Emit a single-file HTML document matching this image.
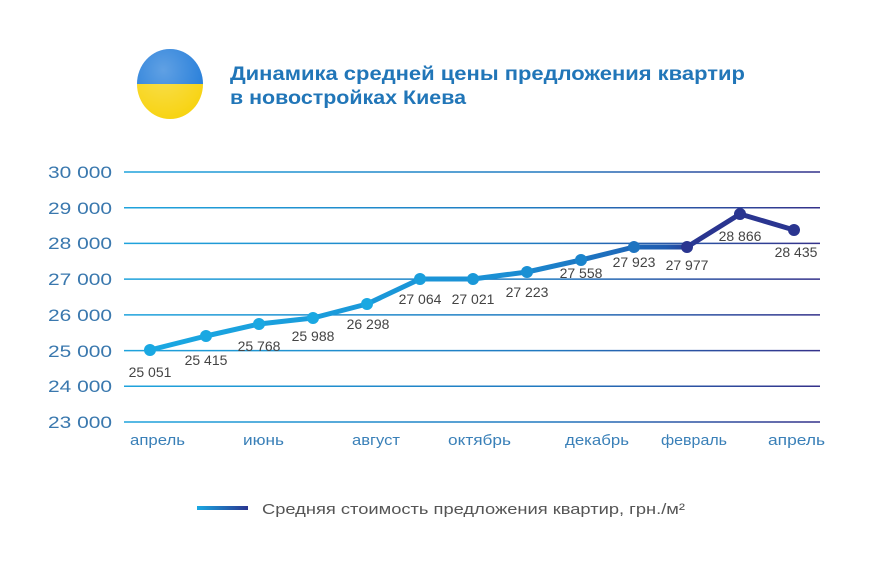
<!DOCTYPE html><html><head><meta charset="utf-8"><style>body{margin:0;background:#fff}svg{display:block}</style></head><body>
<svg width="880" height="563" xmlns="http://www.w3.org/2000/svg" font-family="Liberation Sans, sans-serif">
<defs>
<linearGradient id="g" x1="124" x2="820" gradientUnits="userSpaceOnUse"><stop offset="0" stop-color="#1fa3dc"/><stop offset="0.6" stop-color="#2079c0"/><stop offset="1" stop-color="#34318a"/></linearGradient>
<linearGradient id="l" x1="150" x2="794" gradientUnits="userSpaceOnUse"><stop offset="0" stop-color="#1aa8e2"/><stop offset="0.55" stop-color="#1b8fd4"/><stop offset="0.8" stop-color="#1f5cb0"/><stop offset="0.85" stop-color="#2a3590"/><stop offset="1" stop-color="#2a3590"/></linearGradient>
<linearGradient id="lg" x1="197" x2="248" gradientUnits="userSpaceOnUse"><stop offset="0" stop-color="#1aa8e2"/><stop offset="1" stop-color="#2a3590"/></linearGradient>
<radialGradient id="fl" cx="0.4" cy="0.3" r="0.8"><stop offset="0" stop-color="#fff" stop-opacity="0.3"/><stop offset="1" stop-color="#fff" stop-opacity="0"/></radialGradient>
</defs>
<clipPath id="c"><ellipse cx="170" cy="84" rx="33" ry="35"/></clipPath>
<g clip-path="url(#c)"><rect x="130" y="45" width="80" height="39" fill="#1c78d8"/><rect x="130" y="84" width="80" height="40" fill="#f7d20a"/></g>
<ellipse cx="170" cy="84" rx="33" ry="35" fill="url(#fl)"/>
<g font-size="19" font-weight="bold" fill="#2176b8"><text x="230" y="80" textLength="515" lengthAdjust="spacingAndGlyphs">Динамика средней цены предложения квартир</text><text x="230" y="104" textLength="236" lengthAdjust="spacingAndGlyphs">в новостройках Киева</text></g>
<g stroke="url(#g)" stroke-width="1.5">
<line x1="124" x2="820" y1="172" y2="172"/><line x1="124" x2="820" y1="207.7" y2="207.7"/><line x1="124" x2="820" y1="243.4" y2="243.4"/><line x1="124" x2="820" y1="279.1" y2="279.1"/><line x1="124" x2="820" y1="314.9" y2="314.9"/><line x1="124" x2="820" y1="350.6" y2="350.6"/><line x1="124" x2="820" y1="386.3" y2="386.3"/><line x1="124" x2="820" y1="422" y2="422"/></g>
<g font-size="17" fill="#3a78ae" lengthAdjust="spacingAndGlyphs">
<text x="48" y="178" textLength="64" lengthAdjust="spacingAndGlyphs">30 000</text><text x="48" y="214" textLength="64" lengthAdjust="spacingAndGlyphs">29 000</text><text x="48" y="249" textLength="64" lengthAdjust="spacingAndGlyphs">28 000</text><text x="48" y="285" textLength="64" lengthAdjust="spacingAndGlyphs">27 000</text><text x="48" y="321" textLength="64" lengthAdjust="spacingAndGlyphs">26 000</text><text x="48" y="357" textLength="64" lengthAdjust="spacingAndGlyphs">25 000</text><text x="48" y="392" textLength="64" lengthAdjust="spacingAndGlyphs">24 000</text><text x="48" y="428" textLength="64" lengthAdjust="spacingAndGlyphs">23 000</text></g>
<g font-size="15" fill="#3a80b8">
<text x="130" y="445" textLength="55" lengthAdjust="spacingAndGlyphs">апрель</text><text x="243" y="445" textLength="41" lengthAdjust="spacingAndGlyphs">июнь</text><text x="352" y="445" textLength="48" lengthAdjust="spacingAndGlyphs">август</text><text x="448" y="445" textLength="63" lengthAdjust="spacingAndGlyphs">октябрь</text><text x="565" y="445" textLength="64" lengthAdjust="spacingAndGlyphs">декабрь</text><text x="661" y="445" textLength="66" lengthAdjust="spacingAndGlyphs">февраль</text><text x="768" y="445" textLength="57" lengthAdjust="spacingAndGlyphs">апрель</text></g>
<polyline fill="none" stroke="url(#l)" stroke-width="5" stroke-linejoin="round" points="150,350 206,336 259,324 313,318 367,304 420,279 473,279 527,272 581,260 634,247 687,247 740,214 794,230"/>
<g fill="#1aa8e2"><circle cx="150" cy="350" r="6"/><circle cx="206" cy="336" r="6"/><circle cx="259" cy="324" r="6"/><circle cx="313" cy="318" r="6"/><circle cx="367" cy="304" r="6"/><circle cx="420" cy="279" r="6" fill="#1a9edc"/><circle cx="473" cy="279" r="6" fill="#1a98d8"/><circle cx="527" cy="272" r="6" fill="#1a90d4"/><circle cx="581" cy="260" r="6" fill="#1b84cc"/><circle cx="634" cy="247" r="6" fill="#1e74c0"/><circle cx="687" cy="247" r="6" fill="#2a3590"/><circle cx="740" cy="214" r="6" fill="#2a3590"/><circle cx="794" cy="230" r="6" fill="#2a3590"/></g>
<g font-size="14" fill="#444" text-anchor="middle">
<text x="150" y="377">25 051</text><text x="206" y="365">25 415</text><text x="259" y="351">25 768</text><text x="313" y="341">25 988</text><text x="368" y="329">26 298</text><text x="420" y="304">27 064</text><text x="473" y="304">27 021</text><text x="527" y="297">27 223</text><text x="581" y="278">27 558</text><text x="634" y="267">27 923</text><text x="687" y="270">27 977</text><text x="740" y="241">28 866</text><text x="796" y="257">28 435</text></g>
<line x1="197" x2="248" y1="508" y2="508" stroke="url(#lg)" stroke-width="4"/>
<text x="262" y="514" font-size="15" fill="#555" textLength="423" lengthAdjust="spacingAndGlyphs">Средняя стоимость предложения квартир, грн./м²</text>
</svg></body></html>
